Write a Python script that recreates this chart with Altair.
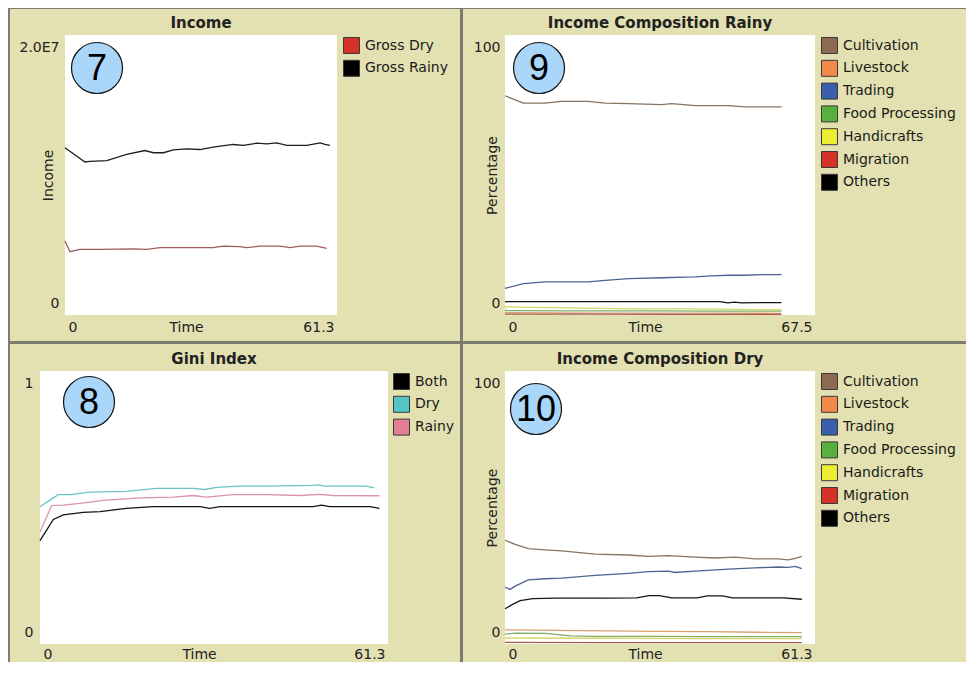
import altair as alt
import pandas as pd

# ---------------- data ----------------
# Panel 7 : Income
INC_RAINY_T = [0, 4.5, 5.6, 9.4, 13.9, 18.0, 19.9, 22.2, 24.4, 27.4, 30.4, 33.4, 37.9, 40.2, 43.2, 45.5, 47.7, 50.0, 54.5, 57.5, 58.6, 59.7]
INC_RAINY_V = [11940000, 10930000, 10980000, 11020000, 11470000, 11750000, 11590000, 11590000, 11800000, 11870000, 11820000,
               11990000, 12180000, 12110000, 12270000, 12230000, 12300000, 12110000, 12110000, 12300000, 12180000, 12110000]
INC_DRY_T = [0, 1.1, 3.4, 7.9, 15.4, 18.4, 21.4, 27.4, 33.4, 35.7, 39.4, 40.9, 43.9, 48.5, 50.7, 53.0, 56.7, 59.0]
INC_DRY_V = [5280000, 4520000, 4690000, 4690000, 4730000, 4690000, 4810000, 4810000, 4810000, 4920000, 4880000, 4810000,
             4920000, 4920000, 4810000, 4920000, 4920000, 4760000]

# Panel 8 : Gini index
GINI_DRY_T = [0, 1.76, 3.2, 5.3, 8.8, 15.2, 20.5, 23.5, 27.0, 29.0, 31.1, 35.2, 39.9, 45.7, 48.1, 49.0, 50.1, 57.5, 58.9]
GINI_DRY_V = [0.503, 0.527, 0.547, 0.547, 0.556, 0.559, 0.570, 0.570, 0.570, 0.566, 0.574, 0.578, 0.578, 0.580, 0.581, 0.583, 0.578, 0.578, 0.572]
GINI_RAINY_T = [0, 2.05, 4.1, 7.0, 11.7, 17.6, 23.5, 27.0, 29.3, 34.0, 39.9, 45.7, 49.3, 51.6, 59.8]
GINI_RAINY_V = [0.41, 0.507, 0.509, 0.515, 0.527, 0.535, 0.538, 0.544, 0.538, 0.547, 0.547, 0.544, 0.548, 0.544, 0.543]
GINI_BOTH_T = [0, 2.35, 4.1, 7.6, 10.6, 15.2, 19.9, 23.5, 28.2, 29.9, 31.7, 39.9, 48.1, 49.6, 51.0, 58.1, 59.8]
GINI_BOTH_V = [0.379, 0.456, 0.473, 0.482, 0.485, 0.497, 0.503, 0.503, 0.503, 0.497, 0.503, 0.503, 0.503, 0.509, 0.503, 0.503, 0.497]

# Panel 9 : Income composition, rainy season (%)
R_CULT_T = [0, 4.0, 8.7, 12.3, 18.1, 21.8, 26.9, 34.1, 36.3, 41.4, 48.6, 52.2, 55.9, 60.2]
R_CULT_V = [78.3, 75.7, 75.7, 76.3, 76.3, 75.7, 75.5, 75.1, 75.5, 74.8, 74.8, 74.3, 74.3, 74.3]
R_TRAD_T = [0, 4.0, 8.7, 18.1, 21.8, 26.9, 34.1, 41.4, 45.0, 48.6, 52.2, 55.9, 60.2]
R_TRAD_V = [9.5, 11.2, 11.8, 11.8, 12.4, 13.0, 13.3, 13.6, 14.0, 14.2, 14.2, 14.4, 14.4]
R_OTH_T = [0, 10, 20, 30, 40, 46.8, 48.5, 50.0, 51.5, 55.0, 60.2]
R_OTH_V = [4.8, 4.8, 4.8, 4.8, 4.8, 4.8, 4.3, 4.6, 4.3, 4.4, 4.4]
R_HAND_T = [0, 5, 10, 20, 30, 40, 47, 50, 60.2]
R_HAND_V = [2.9, 2.7, 2.6, 2.4, 2.2, 2.2, 2.1, 2.0, 1.9]
R_FOOD_T = [0, 15, 30, 45, 60.2]
R_FOOD_V = [1.6, 1.5, 1.5, 1.4, 1.4]
R_LIVE_T = [0, 20, 40, 60.2]
R_LIVE_V = [0.8, 0.7, 0.7, 0.6]
R_MIGR_T = [0, 20, 40, 60.2]
R_MIGR_V = [0.3, 0.3, 0.2, 0.2]

# Panel 10 : Income composition, dry season (%)
D_CULT_T = [0, 2.0, 4.6, 7.9, 11.2, 17.8, 24.4, 28.3, 32.3, 37.6, 41.5, 45.5, 49.4, 54.1, 56.0, 57.4, 58.7]
D_CULT_V = [38.0, 36.5, 34.9, 34.5, 34.1, 32.9, 32.6, 32.1, 32.4, 31.8, 31.5, 31.8, 31.2, 31.2, 30.8, 31.4, 32.1]
D_TRAD_T = [0, 1.0, 2.0, 4.6, 7.9, 11.2, 17.8, 24.4, 28.3, 32.3, 33.6, 37.6, 44.2, 49.4, 54.1, 56.0, 57.4, 58.7]
D_TRAD_V = [20.8, 20.0, 21.2, 23.5, 23.9, 24.1, 25.1, 25.9, 26.5, 26.7, 26.2, 26.7, 27.4, 27.9, 28.2, 28.1, 28.4, 27.6]
D_OTH_T = [0, 1.5, 3, 5.5, 10, 20, 26, 28.5, 30.5, 33, 38, 40, 43, 45, 55, 58.7]
D_OTH_V = [12.9, 14.5, 15.9, 16.6, 16.8, 16.8, 16.9, 17.7, 17.7, 16.9, 16.9, 17.6, 17.6, 16.9, 16.9, 16.4]
D_LIVE_T = [0, 10, 20, 30, 40, 50, 58.7]
D_LIVE_V = [5.2, 5.0, 4.8, 4.6, 4.5, 4.3, 4.2]
D_FOOD_T = [0, 2, 8, 13, 18, 30, 40, 50, 58.7]
D_FOOD_V = [3.6, 4.0, 3.9, 3.0, 2.8, 2.8, 2.7, 2.7, 2.7]
D_HAND_T = [0, 20, 40, 58.7]
D_HAND_V = [2.2, 2.1, 2.0, 2.0]
D_MIGR_T = [0, 20, 40, 58.7]
D_MIGR_V = [0.6, 0.5, 0.5, 0.5]

INC_SERIES = ["Gross Dry", "Gross Rainy"]
GINI_SERIES = ["Both", "Dry", "Rainy"]
COMP_SERIES = ["Cultivation", "Livestock", "Trading", "Food Processing", "Handicrafts", "Migration", "Others"]

INC_LINE = ["#a05c5c", "#1e1e1e"]
INC_KEY = ["#d73229", "#000000"]
GINI_LINE = ["#151515", "#6cc3c6", "#d993ab"]
GINI_KEY = ["#000000", "#54c4c4", "#e07f96"]
COMP_LINE = ["#867463", "#d9a070", "#4e6291", "#7fae6a", "#d6d66a", "#a8584f", "#151515"]
COMP_KEY = ["#8d6a4f", "#f08a4b", "#3a5faa", "#59b03c", "#eded31", "#d73229", "#000000"]

KHAKI = "#e3e1b2"
SEP = "#7c7c70"
CIRCLE = "#aad6fa"
FONT = "DejaVu Sans"


def long_table(pairs):
    rows = []
    for name, ts, vs in pairs:
        for t, v in zip(ts, vs):
            rows.append({"t": t, "v": v, "s": name})
    return pd.DataFrame(rows)


inc_df = long_table([("Gross Dry", INC_DRY_T, INC_DRY_V), ("Gross Rainy", INC_RAINY_T, INC_RAINY_V)])
gini_df = long_table([("Both", GINI_BOTH_T, GINI_BOTH_V), ("Dry", GINI_DRY_T, GINI_DRY_V), ("Rainy", GINI_RAINY_T, GINI_RAINY_V)])
rainy_df = long_table([("Cultivation", R_CULT_T, R_CULT_V), ("Livestock", R_LIVE_T, R_LIVE_V), ("Trading", R_TRAD_T, R_TRAD_V),
                       ("Food Processing", R_FOOD_T, R_FOOD_V), ("Handicrafts", R_HAND_T, R_HAND_V),
                       ("Migration", R_MIGR_T, R_MIGR_V), ("Others", R_OTH_T, R_OTH_V)])
dry_df = long_table([("Cultivation", D_CULT_T, D_CULT_V), ("Livestock", D_LIVE_T, D_LIVE_V), ("Trading", D_TRAD_T, D_TRAD_V),
                     ("Food Processing", D_FOOD_T, D_FOOD_V), ("Handicrafts", D_HAND_T, D_HAND_V),
                     ("Migration", D_MIGR_T, D_MIGR_V), ("Others", D_OTH_T, D_OTH_V)])


def panel(df, order, line_cols, key_cols, xmax, ymax, ytop_label, lead, pw, h, cell, title, number, circle_xy,
          ytitle, ytitle_x, ypad, xpad, legend_xy):
    """lead: empty room left of the white plot inside the view; pw: width of the white plot."""
    w = lead + pw
    one = alt.Data(values=[{"k": 0}])
    bg = alt.Chart(one).mark_rect(fill=KHAKI).encode(
        x=alt.value(cell[0]), x2=alt.value(cell[1]), y=alt.value(cell[2]), y2=alt.value(cell[3]))
    plot_bg = alt.Chart(one).mark_rect(fill="white").encode(
        x=alt.value(lead), x2=alt.value(w), y=alt.value(0), y2=alt.value(h))

    x_axis = alt.Axis(
        values=[0, xmax], zindex=1,
        labelExpr="datum.value == 0 ? '0' : format(datum.value, '.1f')",
        labelFlush=True, labelFlushOffset=-3, labelPadding=xpad,
        title="Time", titleX=lead + pw / 2 - 15, titleY=xpad, titleBaseline="top", titleAlign="center",
    )
    y_kwargs = dict(
        values=[0, ymax], zindex=1, offset=-lead,
        labelExpr="datum.value == 0 ? '0' : '%s'" % ytop_label,
        labelFlush=True, labelFlushOffset=-5, labelPadding=ypad,
    )
    if ytitle:
        y_axis = alt.Axis(title=ytitle, titleX=ytitle_x, titleY=h / 2, titleAngle=270,
                          titleBaseline="middle", titleAlign="center", **y_kwargs)
    else:
        y_axis = alt.Axis(title=None, **y_kwargs)

    x_enc = alt.X("t:Q", scale=alt.Scale(domain=[0, xmax], range=[lead, w], nice=False, zero=False), axis=x_axis)
    y_enc = alt.Y("v:Q", scale=alt.Scale(domain=[0, ymax], nice=False), axis=y_axis)
    # the line scale lists the series in reverse so that it is not merged with the key's (fill) legend
    lines = alt.Chart(df).mark_line(strokeWidth=1.3).encode(
        x=x_enc, y=y_enc,
        stroke=alt.Stroke("s:N", scale=alt.Scale(domain=order[::-1], range=line_cols[::-1]), legend=None),
    )
    key = alt.Chart(df).mark_point(shape="square", filled=True, opacity=0).encode(
        x=alt.X("t:Q"), y=alt.Y("v:Q"),
        fill=alt.Fill("s:N", scale=alt.Scale(domain=order, range=key_cols),
                      legend=alt.Legend(title=None, orient="none", legendX=legend_xy[0], legendY=legend_xy[1],
                                        direction="vertical", symbolOpacity=1, zindex=2))
    )
    circ = alt.Chart(alt.Data(values=[{"n": number}])).mark_circle(
        size=2601, fill=CIRCLE, stroke="#111111", strokeWidth=1.2, opacity=1
    ).encode(x=alt.value(circle_xy[0]), y=alt.value(circle_xy[1]))
    num = alt.Chart(alt.Data(values=[{"n": number}])).mark_text(
        font="Liberation Sans", fontSize=36, align="center", baseline="middle", color="#000000"
    ).encode(x=alt.value(circle_xy[0]), y=alt.value(circle_xy[1] + 1), text="n:N")
    ttl = alt.Chart(alt.Data(values=[{"n": title}])).mark_text(
        font=FONT, fontSize=15, fontWeight="bold", align="center", baseline="alphabetic", color="#222222"
    ).encode(x=alt.value(lead + pw / 2), y=alt.value(-7), text="n:N")

    return alt.layer(bg, plot_bg, lines, key, circ, num, ttl).properties(width=w, height=h)


# column 1 views share their origin (page x 40); panel 7's white plot starts 25 px further right
p7 = panel(inc_df, INC_SERIES, INC_LINE, INC_KEY, 61.3, 20000000, "2.0E7", 25, 272, 280, (-30, 420, -26, 306),
           "Income", "7", (57, 33), "Income", -17, 6, 5, (303, 2))
p9 = panel(rainy_df, COMP_SERIES, COMP_LINE, COMP_KEY, 67.5, 100, "100", 0, 310, 280, (-42, 461, -26, 306),
           "Income Composition Rainy", "9", (34, 33), "Percentage", -13, 5, 5, (316, 2))
p8 = panel(gini_df, GINI_SERIES, GINI_LINE, GINI_KEY, 61.3, 1, "1", 0, 348, 273, (-30, 420, -27, 291),
           "Gini Index", "8", (49, 31), None, 0, 7, 3, (353, 2))
p10 = panel(dry_df, COMP_SERIES, COMP_LINE, COMP_KEY, 61.3, 100, "100", 0, 310, 273, (-42, 461, -27, 291),
            "Income Composition Dry", "10", (31, 38), "Percentage", -13, 5, 3, (316, 2))

chart = alt.concat(p7, p9, p8, p10, columns=2, spacing=3).resolve_scale(
    stroke="independent", fill="independent"
).resolve_legend(
    fill="independent", stroke="independent"
).properties(
    background=SEP,
    padding={"left": 2, "top": 1, "right": 0, "bottom": 0},
).configure_view(
    strokeWidth=0
).configure_axis(
    domain=False, ticks=False, tickSize=0, grid=False, labelOverlap=False,
    labelFont=FONT, labelFontSize=14, labelColor="#222222",
    titleFont=FONT, titleFontSize=14, titleFontWeight="normal", titleColor="#222222",
).configure_legend(
    symbolType="square", symbolSize=256, symbolStrokeColor="#3a3a3a", symbolStrokeWidth=1,
    labelFont=FONT, labelFontSize=14, labelColor="#1a1a1a", labelOffset=5, rowPadding=1.8, padding=0,
    labelLimit=300,
)

chart.save("out.html", embed_options={"renderer": "svg", "actions": False})
